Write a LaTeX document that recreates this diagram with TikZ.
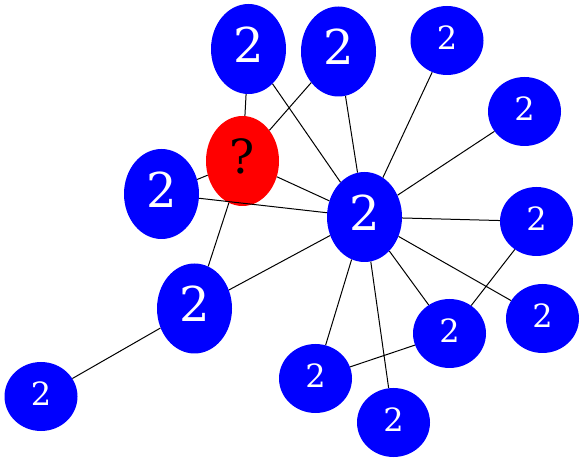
\documentclass[tikz,border=0pt]{standalone}
\usepackage{fontspec}
\setmainfont{DejaVu Serif}
\usetikzlibrary{shapes.geometric}
\begin{document}
\begin{tikzpicture}[x=1pt,y=-1pt,
  bignode/.style={ellipse,fill=blue,text=white,inner sep=0pt,minimum width=75pt,minimum height=90pt,text depth=9pt,font=\fontsize{48}{48}\selectfont},
  smallnode/.style={ellipse,fill=blue,text=white,inner sep=0pt,minimum width=73pt,minimum height=69pt,text depth=6pt,font=\fontsize{32}{32}\selectfont},
  qnode/.style={ellipse,fill=red,text=black,inner sep=0pt,minimum width=73pt,minimum height=90pt,text depth=10pt,font=\fontsize{47}{47}\selectfont},
  edge/.style={draw=black,line width=1pt}]
\useasboundingbox (0,0) rectangle (584,462);
\node[bignode] (A) at (248.5,49) {2};
\node[bignode] (B) at (338.5,51.5) {2};
\node[smallnode] (C) at (447,40.5) {2};
\node[smallnode] (D) at (524.5,111.5) {2};
\node[qnode] (Q) at (242.5,161) {?};
\node[bignode] (E) at (161.5,194) {2};
\node[bignode] (M) at (364.5,217) {2};
\node[smallnode] (F) at (536.5,221.5) {2};
\node[bignode] (G) at (194.5,308.5) {2};
\node[smallnode] (H) at (542.5,318.5) {2};
\node[smallnode] (I) at (449.5,333.5) {2};
\node[smallnode] (J) at (315.5,378.5) {2};
\node[smallnode] (K) at (41,396.5) {2};
\node[smallnode] (L) at (393.5,422.5) {2};
\path[edge] (A) -- (Q) (A) -- (M) (B) -- (Q) (B) -- (M)
  (C) -- (M) (D) -- (M) (Q) -- (E) (Q) -- (M) (Q) -- (G)
  (E) -- (M) (M) -- (F) (M) -- (G) (M) -- (H) (M) -- (I)
  (M) -- (J) (M) -- (L) (F) -- (I) (I) -- (J) (G) -- (K);
\end{tikzpicture}
\end{document}
